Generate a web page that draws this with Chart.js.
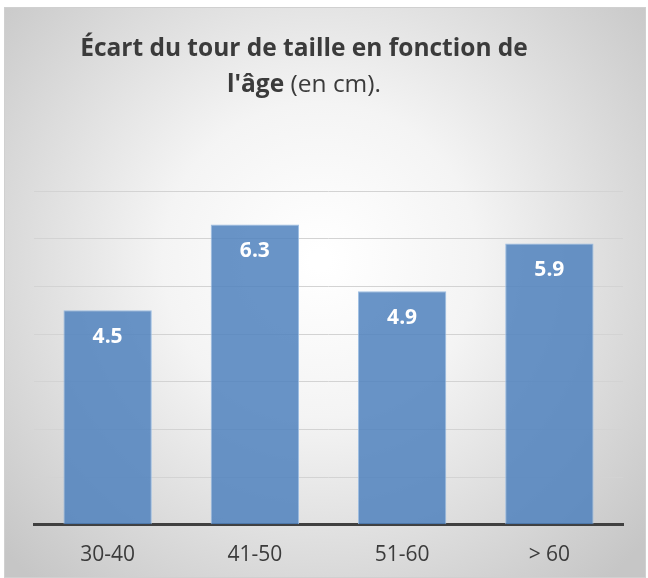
<!DOCTYPE html>
<html>
<head>
<meta charset="utf-8">
<script src="https://cdn.jsdelivr.net/npm/chart.js@4"></script>
<style>
  html, body { margin: 0; padding: 0; background: #fff; }
  #wrap { width: 648px; height: 578px; }
</style>
</head>
<body>
<div id="wrap"><canvas id="waistChart" width="648" height="578"></canvas></div>
<script>
const ageGroups = ["30-40", "41-50", "51-60", "> 60"];
const waistGap = [4.5, 6.3, 4.9, 5.9];
const titleLine1 = "Écart du tour de taille en fonction de";
const titleBold2 = "l'âge";
const titleRest2 = " (en cm).";

const textColor = "#3b3b3b";
const fontFamily = "'Open Sans', 'Noto Sans', sans-serif";

// background box with radial shading + title
const backdrop = {
  id: "backdrop",
  beforeDraw(chart) {
    const ctx = chart.ctx;
    ctx.save();
    ctx.fillStyle = "#ffffff";
    ctx.fillRect(0, 0, chart.width, chart.height);
    const g = ctx.createRadialGradient(320, 260, 10, 320, 260, 430);
    g.addColorStop(0, "#ffffff");
    g.addColorStop(0.35, "#f4f4f4");
    g.addColorStop(1, "#c6c6c6");
    ctx.fillStyle = g;
    ctx.fillRect(4, 7, 642, 571);
    ctx.strokeStyle = "#d0d0d0";
    ctx.lineWidth = 1;
    ctx.strokeRect(4.5, 7.5, 641, 570);
    ctx.restore();
  },
  afterDraw(chart) {
    const ctx = chart.ctx;
    ctx.save();
    ctx.fillStyle = textColor;
    ctx.textBaseline = "middle";
    ctx.textAlign = "center";
    ctx.font = "bold 24.5px " + fontFamily;
    ctx.fillText(titleLine1, 304, 49);
    const boldW = ctx.measureText(titleBold2).width;
    ctx.font = "24.5px " + fontFamily;
    const restW = ctx.measureText(titleRest2).width;
    const startX = 304 - (boldW + restW) / 2;
    ctx.textAlign = "left";
    ctx.font = "bold 24.5px " + fontFamily;
    ctx.fillText(titleBold2, startX, 85);
    ctx.font = "24.5px " + fontFamily;
    ctx.fillText(titleRest2, startX + boldW, 85);
    ctx.restore();
  }
};

// white value labels inside top of bars
const valueLabels = {
  id: "valueLabels",
  afterDatasetsDraw(chart) {
    const ctx = chart.ctx;
    const meta = chart.getDatasetMeta(0);
    ctx.save();
    ctx.fillStyle = "#ffffff";
    ctx.font = "bold 21px " + fontFamily;
    ctx.textAlign = "center";
    ctx.textBaseline = "middle";
    meta.data.forEach((bar, i) => {
      ctx.fillText(waistGap[i].toFixed(1), bar.x, bar.y + 27);
    });
    ctx.restore();
  }
};

new Chart(document.getElementById("waistChart"), {
  type: "bar",
  data: {
    labels: ageGroups,
    datasets: [{
      data: waistGap,
      backgroundColor: "rgba(79,129,189,0.85)",
      borderColor: "rgba(150,185,225,0.9)",
      borderWidth: 1,
      categoryPercentage: 1,
      barPercentage: 0.6
    }]
  },
  options: {
    responsive: false,
    animation: false,
    layout: { padding: { left: 34, right: 25, top: 191, bottom: 0 } },
    plugins: { legend: { display: false }, tooltip: { enabled: false } },
    scales: {
      x: {
        grid: { display: false },
        border: { display: true, color: "#404040", width: 3 },
        ticks: { color: textColor, font: { family: fontFamily, size: 21 }, padding: 10 }
      },
      y: {
        min: 0,
        max: 7,
        ticks: { display: false, stepSize: 1 },
        grid: { color: "#d3d3d3", lineWidth: 1, drawTicks: false },
        border: { display: false }
      }
    }
  },
  plugins: [backdrop, valueLabels]
});
</script>
</body>
</html>
